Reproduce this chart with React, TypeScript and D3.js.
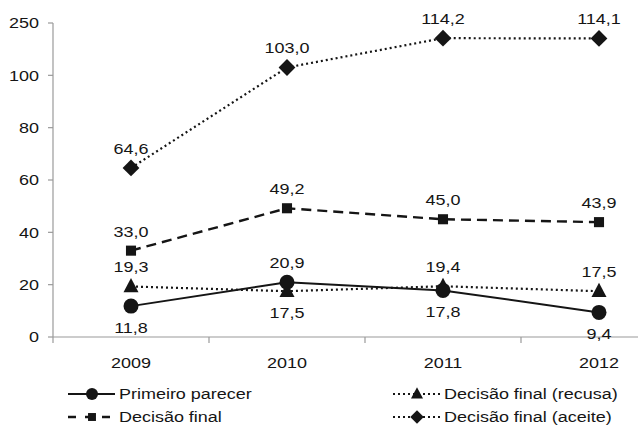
import React from "react";
import * as d3 from "d3";

const years = ["2009", "2010", "2011", "2012"];
const primeiroParecer = [11.8, 20.9, 17.8, 9.4];
const decisaoFinal = [33.0, 49.2, 45.0, 43.9];
const decisaoRecusa = [19.3, 17.5, 19.4, 17.5];
const decisaoAceite = [64.6, 103.0, 114.2, 114.1];
// tick positions on the chart's linear scale and the labels printed there
const yTickValues = [0, 20, 40, 60, 80, 100, 120];
const yTickLabels = ["0", "20", "40", "60", "80", "100", "250"];
const seriesNames = [
  "Primeiro parecer",
  "Decisão final",
  "Decisão final (recusa)",
  "Decisão final (aceite)",
];
// label placement per point: 1 = above, -1 = below
const primeiroPos = [-1, 1, -1, -1];
const finalPos = [1, 1, 1, 1];
const recusaPos = [1, -1, 1, 1];
const aceitePos = [1, 1, 1, 1];

const W = 638;
const H = 427;
const FONT = "'Liberation Sans', Arial, Helvetica, sans-serif";
const INK = "#151515";
const AXIS = "#9a9a9a";
const FS = 15.5;
const SX = 1.16;

const fmt = (v: number) => v.toFixed(1).replace(".", ",");

function Txt({
  x,
  y,
  anchor,
  dy,
  children,
}: {
  x: number;
  y: number;
  anchor: "start" | "middle" | "end";
  dy?: string;
  children: React.ReactNode;
}) {
  return (
    <text
      transform={`translate(${x},${y}) scale(${SX},1)`}
      dy={dy}
      textAnchor={anchor}
      fontSize={FS}
      fill={INK}
    >
      {children}
    </text>
  );
}

type Marker = "circle" | "square" | "triangle" | "diamond";

function MarkerShape({ type, x, y, s }: { type: Marker; x: number; y: number; s: number }) {
  if (type === "circle") return <circle cx={x} cy={y} r={s * 0.5} fill={INK} />;
  if (type === "square")
    return <rect x={x - s * 0.36} y={y - s * 0.36} width={s * 0.72} height={s * 0.72} fill={INK} />;
  if (type === "triangle") {
    const h = s * 0.95;
    return (
      <path
        d={`M${x},${y - h * 0.6} L${x + s * 0.5},${y + h * 0.4} L${x - s * 0.5},${y + h * 0.4} Z`}
        fill={INK}
      />
    );
  }
  const r = s * 0.56;
  return <path d={`M${x},${y - r} L${x + r},${y} L${x},${y + r} L${x - r},${y} Z`} fill={INK} />;
}

export default function App() {
  const x = d3.scaleBand<string>().domain(years).range([53, 677]);
  const y = d3.scaleLinear().domain([0, 120]).range([337, 23]);
  const cx = (yr: string) => (x(yr) ?? 0) + x.bandwidth() / 2;

  const series: {
    name: string;
    values: number[];
    pos: number[];
    marker: Marker;
    dash: string | undefined;
    width: number;
  }[] = [
    { name: seriesNames[3], values: decisaoAceite, pos: aceitePos, marker: "diamond", dash: "2,3", width: 2.2 },
    { name: seriesNames[1], values: decisaoFinal, pos: finalPos, marker: "square", dash: "10,6", width: 2.4 },
    { name: seriesNames[2], values: decisaoRecusa, pos: recusaPos, marker: "triangle", dash: "2,3", width: 2.2 },
    { name: seriesNames[0], values: primeiroParecer, pos: primeiroPos, marker: "circle", dash: undefined, width: 2 },
  ];

  const line = d3
    .line<number>()
    .x((_, i) => cx(years[i]))
    .y((d) => y(d));

  const xTicks = [53, ...years.map((yr) => (x(yr) ?? 0) + x.bandwidth())];

  const byName = (n: string) => series.find((d) => d.name === n)!;
  const legendOrder = [
    { s: byName(seriesNames[0]), lx: 68, ly: 394 },
    { s: byName(seriesNames[1]), lx: 68, ly: 417 },
    { s: byName(seriesNames[2]), lx: 393, ly: 394 },
    { s: byName(seriesNames[3]), lx: 393, ly: 417 },
  ];

  return (
    <svg
      width={W}
      height={H}
      style={{ position: "absolute", left: 0, top: 0, background: "#fff" }}
      fontFamily={FONT}
    >
      <rect width={W} height={H} fill="#fff" />
      {/* y axis */}
      <line x1={53} x2={53} y1={y(120)} y2={y(0)} stroke={AXIS} strokeWidth={1.2} />
      {yTickValues.map((v, i) => (
        <g key={v}>
          <line x1={48} x2={53} y1={y(v)} y2={y(v)} stroke={AXIS} strokeWidth={1.2} />
          <Txt x={39} y={y(v)} dy="0.35em" anchor="end">
            {yTickLabels[i]}
          </Txt>
        </g>
      ))}
      {/* x axis */}
      <line x1={53} x2={W} y1={y(0)} y2={y(0)} stroke={AXIS} strokeWidth={1.2} />
      {xTicks.map((t, i) => (
        <line key={i} x1={t} x2={t} y1={y(0)} y2={y(0) + 6} stroke={AXIS} strokeWidth={1.2} />
      ))}
      {years.map((yr) => (
        <Txt key={yr} x={cx(yr)} y={363} dy="0.35em" anchor="middle">
          {yr}
        </Txt>
      ))}
      {/* series */}
      {series.map((s) => (
        <g key={s.name}>
          <path
            d={line(s.values) ?? ""}
            fill="none"
            stroke={INK}
            strokeWidth={s.width}
            strokeDasharray={s.dash}
          />
          {s.values.map((v, i) => (
            <MarkerShape key={i} type={s.marker} x={cx(years[i])} y={y(v)} s={s.marker === "square" ? 14 : 15} />
          ))}
          {s.values.map((v, i) => (
            <Txt
              key={"t" + i}
              x={cx(years[i])}
              y={s.pos[i] > 0 ? y(v) - 14 : y(v) + 15}
              dy={s.pos[i] > 0 ? "0" : "0.75em"}
              anchor="middle"
            >
              {fmt(v)}
            </Txt>
          ))}
        </g>
      ))}
      {/* legend */}
      {legendOrder.map(({ s, lx, ly }) => (
        <g key={s.name}>
          <line
            x1={lx}
            x2={lx + 47}
            y1={ly}
            y2={ly}
            stroke={INK}
            strokeWidth={s.width}
            strokeDasharray={s.marker === "square" ? "8,9" : s.dash}
          />
          <MarkerShape type={s.marker} x={lx + 24} y={ly} s={s.marker === "square" ? 11 : 12} />
          <Txt x={lx + 51} y={ly} dy="0.35em" anchor="start">
            {s.name}
          </Txt>
        </g>
      ))}
    </svg>
  );
}
